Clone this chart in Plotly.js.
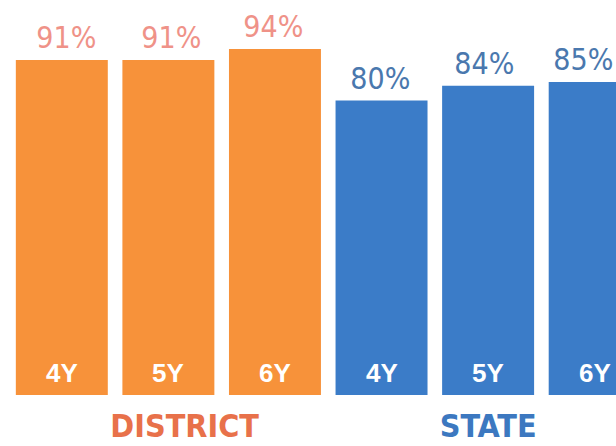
<!DOCTYPE html>
<html>
<head>
<meta charset="utf-8">
<script src="https://cdn.plot.ly/plotly-3.0.1.min.js"></script>
<style>
  html, body { margin: 0; padding: 0; background: #fff; }
  #chart { width: 616px; height: 446px; }
  #chart text { font-stretch: condensed; }
</style>
</head>
<body>
<div id="chart"></div>
<script>
'use strict';

const years = ["4Y", "5Y", "6Y"];
const groups = ["DISTRICT", "STATE"];
const district_rates = [91, 91, 94];
const state_rates = [80, 84, 85];

const narrow = "DejaVu Sans, sans-serif";
const orange = "#f7923a";
const blue = "#3b7cc8";

// small horizontal nudges of the value labels, as in the source graphic
const label_nudge = [5, 3, -1, -1, -4, -11];

function ids(group) {
    return years.map(y => group + " " + y);
}

const series = [
    { group: groups[0], values: district_rates, color: orange, label_color: "#ef9288", name_color: "#e8714a", name_shift: 16 },
    { group: groups[1], values: state_rates, color: blue, label_color: "#4a78ae", name_color: "#3c78c0", name_shift: 0 },
];

const data = series.map(s => ({
    type: "bar",
    x: ids(s.group),
    y: s.values,
    marker: { color: s.color },
    hoverinfo: "none",
}));

let annotations = [];
let k = 0;
for (const s of series) {
    const cats = ids(s.group);
    cats.forEach((cat, i) => {
        annotations.push({
            x: cat, y: s.values[i], xref: "x", yref: "y",
            text: s.values[i] + "%",
            showarrow: false, yanchor: "bottom", yshift: 3, xshift: label_nudge[k++],
            font: { family: narrow, size: 30, color: s.label_color },
        });
        annotations.push({
            x: cat, y: 6, xref: "x", yref: "y",
            text: years[i],
            showarrow: false,
            font: { family: "Liberation Sans, Arial, sans-serif", size: 26, color: "#ffffff", weight: "bold" },
        });
    });
    annotations.push({
        x: cats[1], y: -0.078, xref: "x", yref: "paper", xshift: s.name_shift,
        text: s.group, showarrow: false, yanchor: "middle",
        font: { family: narrow, size: 32, color: s.name_color, weight: "bold" },
    });
}

const layout = {
    width: 616,
    height: 446,
    margin: { l: 0, r: 0, t: 0, b: 51 },
    paper_bgcolor: "#ffffff",
    plot_bgcolor: "#ffffff",
    showlegend: false,
    barmode: "overlay",
    bargap: 0.137,
    xaxis: {
        type: "category",
        range: [-0.58, 5.2],
        showticklabels: false,
        showgrid: false,
        zeroline: false,
        fixedrange: true,
    },
    yaxis: {
        range: [0, 107.3],
        visible: false,
        fixedrange: true,
    },
    annotations: annotations,
};

Plotly.newPlot("chart", data, layout, { displayModeBar: false, staticPlot: true });
</script>
</body>
</html>
